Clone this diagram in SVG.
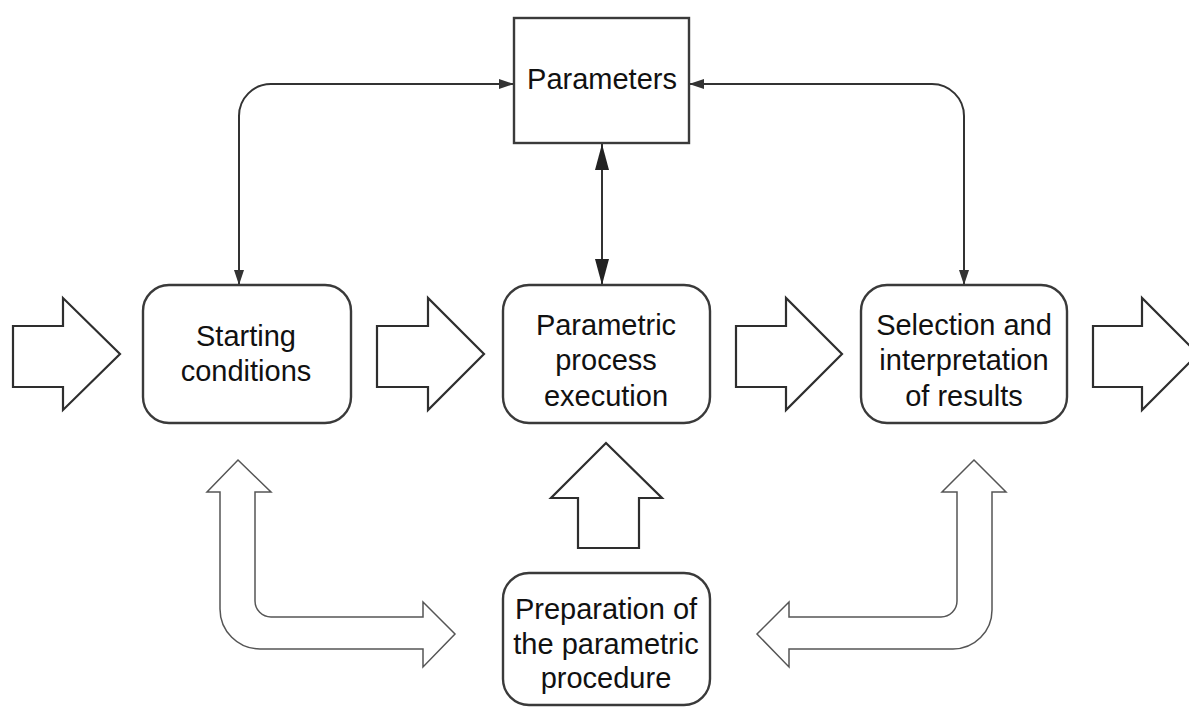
<svg xmlns="http://www.w3.org/2000/svg" width="1189" height="707" viewBox="0 0 1189 707">
  <style>
    .box { fill: #ffffff; stroke: #3a3a3a; stroke-width: 2.4; }
    .label { font-family: "Liberation Sans", Arial, sans-serif; font-size: 29px; fill: #111111; text-anchor: middle; }
    .flow { fill: #ffffff; stroke: #2e2e2e; stroke-width: 2.2; stroke-linejoin: miter; }
    .loop { fill: #ffffff; stroke: #555555; stroke-width: 1.5; }
    .wire { fill: none; stroke: #333333; stroke-width: 2; }
  </style>
  <defs>
    <marker id="tip-small" viewBox="0 0 15 10" refX="15" refY="5" markerWidth="15" markerHeight="10" markerUnits="userSpaceOnUse" orient="auto-start-reverse">
      <path d="M0,0 L15,5 L0,10 Z" fill="#333333"/>
    </marker>
    <marker id="tip-large" viewBox="0 0 26 14" refX="26" refY="7" markerWidth="26" markerHeight="14" markerUnits="userSpaceOnUse" orient="auto-start-reverse">
      <path d="M0,0 L26,7 L0,14 Z" fill="#222222"/>
    </marker>
  </defs>

  <rect width="1189" height="707" fill="#ffffff"/>

  <!-- wide flow arrows along the main chain -->
  <g id="flow-arrows">
    <path class="flow" d="M13,326 L63,326 L63,298 L120,354 L63,410 L63,387 L13,387 Z"/>
    <path class="flow" d="M377,326 L428,326 L428,298 L484,354 L428,410 L428,387 L377,387 Z"/>
    <path class="flow" d="M736,326 L786,326 L786,298 L842,354 L786,410 L786,387 L736,387 Z"/>
    <path class="flow" d="M1093,326 L1142,326 L1142,298 L1198,354 L1142,410 L1142,387 L1093,387 Z"/>
    <path class="flow" d="M606,443 L662,498 L639,498 L639,548 L578,548 L578,498 L551,498 Z"/>
  </g>

  <!-- bent two-way arrows from the preparation step -->
  <g id="loop-arrows">
    <path class="loop" d="M238,460 L271,492 L255,492 L255,601 A16,16 0 0 0 271,617 L423,617 L423,602 L455,634 L423,667 L423,649 L260,649 A40,40 0 0 1 220,609 L220,492 L207,492 Z"/>
    <path class="loop" d="M974,460 L1006,492 L992,492 L992,610 A39,39 0 0 1 953,649 L789,649 L789,667 L757,634 L789,602 L789,617 L941,617 A16,16 0 0 0 957,601 L957,492 L942,492 Z"/>
  </g>

  <!-- thin connectors to and from the parameter set -->
  <g id="connectors">
    <path class="wire" d="M239,285 L239,116 A32,32 0 0 1 271,84 L514,84" marker-start="url(#tip-small)" marker-end="url(#tip-small)"/>
    <path class="wire" d="M964,285 L964,116 A32,32 0 0 0 932,84 L689,84" marker-start="url(#tip-small)" marker-end="url(#tip-small)"/>
    <path class="wire" d="M602,144 L602,285" marker-start="url(#tip-large)" marker-end="url(#tip-large)"/>
  </g>

  <g id="parameters">
    <rect class="box" x="514" y="18" width="175" height="125"/>
    <text class="label" x="602" y="89">Parameters</text>
  </g>

  <g id="starting-conditions">
    <rect class="box" x="143" y="285" width="208" height="138" rx="26" ry="26"/>
    <text class="label" x="246" y="346">Starting</text>
    <text class="label" x="246" y="381">conditions</text>
  </g>

  <g id="process-execution">
    <rect class="box" x="503" y="285" width="207" height="138" rx="26" ry="26"/>
    <text class="label" x="606" y="335">Parametric</text>
    <text class="label" x="606" y="370">process</text>
    <text class="label" x="606" y="406">execution</text>
  </g>

  <g id="selection-interpretation">
    <rect class="box" x="861" y="285" width="206" height="138" rx="26" ry="26"/>
    <text class="label" x="964" y="335">Selection and</text>
    <text class="label" x="964" y="370">interpretation</text>
    <text class="label" x="964" y="406">of results</text>
  </g>

  <g id="procedure-preparation">
    <rect class="box" x="503" y="573" width="207" height="132" rx="26" ry="26"/>
    <text class="label" x="606" y="619">Preparation of</text>
    <text class="label" x="606" y="654">the parametric</text>
    <text class="label" x="606" y="688">procedure</text>
  </g>
</svg>
